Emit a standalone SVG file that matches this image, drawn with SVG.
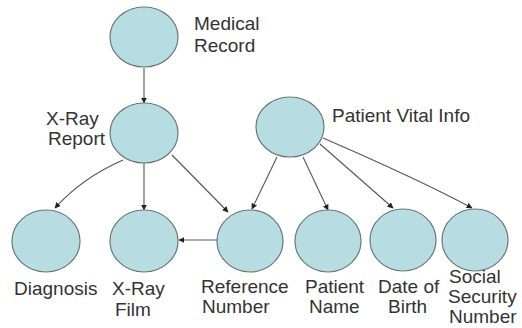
<svg xmlns="http://www.w3.org/2000/svg" width="522" height="328" viewBox="0 0 522 328">
<style>
.n{fill:#b7dde2;stroke:#6b7878;stroke-width:1.2}
.t{font-family:"Liberation Sans",Arial,sans-serif;font-size:19px;fill:#333}
.c{stroke:#555;stroke-width:1.1;fill:none;marker-end:url(#a)}
</style>
<defs>
<marker id="a" viewBox="0 0 10 10" refX="9" refY="5" markerWidth="6" markerHeight="6" markerUnits="userSpaceOnUse" orient="auto">
<path d="M0,0L10,5L0,10z" fill="#222"/>
</marker>
</defs>
<rect width="522" height="328" fill="#fff"/>
<g id="connectors">
<line class="c" x1="144" y1="68" x2="144" y2="103"/>
<path class="c" d="M123,160 Q82,178 55,208"/>
<line class="c" x1="144" y1="163" x2="144" y2="210"/>
<line class="c" x1="172" y1="155" x2="228" y2="212"/>
<line class="c" x1="277" y1="157" x2="252" y2="209"/>
<line class="c" x1="303" y1="157" x2="328" y2="210"/>
<line class="c" x1="320" y1="144" x2="393" y2="208"/>
<path class="c" d="M323,138 Q420,180 472,208"/>
<line class="c" x1="217" y1="240" x2="179" y2="240"/>
</g>
<g id="medical-record">
<ellipse class="n" cx="144" cy="37" rx="34" ry="30"/>
<text class="t" x="194" y="30">Medical</text>
<text class="t" x="194" y="52">Record</text>
</g>
<g id="xray-report">
<ellipse class="n" cx="144" cy="133" rx="34" ry="30"/>
<text class="t" x="46" y="125">X-Ray</text>
<text class="t" x="48" y="145">Report</text>
</g>
<g id="patient-vital-info">
<ellipse class="n" cx="290" cy="127" rx="34" ry="30"/>
<text class="t" x="332" y="122">Patient Vital Info</text>
</g>
<g id="diagnosis">
<ellipse class="n" cx="46" cy="241" rx="34" ry="31"/>
<text class="t" x="14" y="295">Diagnosis</text>
</g>
<g id="xray-film">
<ellipse class="n" cx="144" cy="241" rx="34" ry="31"/>
<text class="t" x="112" y="295">X-Ray</text>
<text class="t" x="115" y="316">Film</text>
</g>
<g id="reference-number">
<ellipse class="n" cx="250" cy="241" rx="33" ry="31"/>
<text class="t" x="201" y="293">Reference</text>
<text class="t" x="202" y="313">Number</text>
</g>
<g id="patient-name">
<ellipse class="n" cx="328" cy="241" rx="33" ry="31"/>
<text class="t" x="305" y="293">Patient</text>
<text class="t" x="309" y="313">Name</text>
</g>
<g id="date-of-birth">
<ellipse class="n" cx="403" cy="240" rx="33" ry="31"/>
<text class="t" x="378" y="293">Date of</text>
<text class="t" x="388" y="313">Birth</text>
</g>
<g id="social-security-number">
<ellipse class="n" cx="475" cy="240" rx="33" ry="31"/>
<text class="t" x="449" y="283">Social</text>
<text class="t" x="448" y="303">Security</text>
<text class="t" x="449" y="323">Number</text>
</g>
</svg>
